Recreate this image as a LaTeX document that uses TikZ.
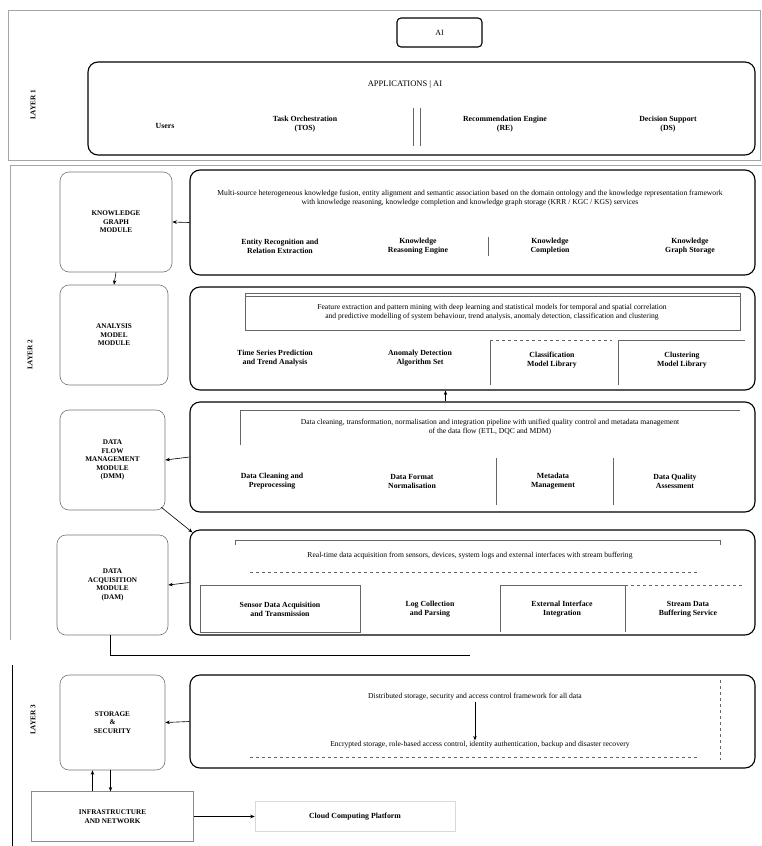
\documentclass[tikz,border=0pt]{standalone}
\usepackage{fontspec}
\setmainfont{Liberation Serif}
\usetikzlibrary{fit,calc,arrows.meta}
\begin{document}
\begin{tikzpicture}[x=1pt,y=-1pt,
  bigbox/.style={draw, line width=1.1pt, rounded corners=10pt, inner sep=0pt},
  sidebox/.style={draw=black!55, line width=0.6pt, rounded corners=9pt, inner sep=0pt},
  cellline/.style={draw=black!60, line width=0.6pt},
  dashline/.style={draw=black!60, line width=0.6pt, dashed},
  item/.style={font=\fontsize{7.8}{9}\selectfont\bfseries, align=center, inner sep=1pt},
  title/.style={font=\fontsize{7.6}{9.5}\selectfont, align=center, inner sep=1pt},
  side/.style={font=\fontsize{7.2}{8.5}\selectfont\bfseries, align=center, inner sep=1pt},
  layer/.style={font=\fontsize{7.2}{8}\selectfont\bfseries, rotate=90},
  arr/.style={-{Stealth[length=4.5pt,width=3.5pt]}, line width=0.6pt},
  frame/.style={draw=black!35, line width=0.8pt}]
\useasboundingbox (0,0) rectangle (762,846);

% ---------- section frames ----------
\draw[frame] (8,10) rectangle (760,160);
\draw[frame] (10,165) -- (762,165);
\draw[frame] (10,165) -- (10,640);
\draw[line width=0.6pt] (12,665) -- (12,846);

\node[layer] (lay1) at (33,105) {LAYER 1};
\node[layer] (lay2) at (30,355) {LAYER 2};
\node[layer] (lay3) at (33,720) {LAYER 3};

% ---------- top layer ----------
\node[draw, line width=1.1pt, rounded corners=4pt, minimum width=85pt, minimum height=29pt,
      font=\fontsize{8}{9}\selectfont] (ai) at (439.5,32.5) {AI};
\node[bigbox, fit={(88,62) (755,155)}] (r0) {};
\node[title, font=\fontsize{8.5}{10}\selectfont] (r0t) at (405,84) {APPLICATIONS \textbar{} AI};
\node[item] (r0a) at (165,126) {Users};
\node[item] (r0b) at (305,124) {Task Orchestration\\(TOS)};
\node[item] (r0c) at (505,124) {Recommendation Engine\\(RE)};
\node[item] (r0d) at (668,124) {Decision Support\\(DS)};
\draw[cellline] (413,108) -- (413,146);
\draw[cellline] (420,108) -- (420,146);

% ---------- row 1 ----------
\node[sidebox, fit={(60,172) (172,272)}] (l1) {};
\node[side] at (l1) {KNOWLEDGE\\GRAPH\\MODULE};
\node[bigbox, fit={(190,170) (755,275)}] (r1) {};
\node[title] (r1t) at (470,198) {Multi-source heterogeneous knowledge fusion, entity alignment and semantic association based on the domain ontology and the knowledge representation framework\\with knowledge reasoning, knowledge completion and knowledge graph storage (KRR / KGC / KGS) services};
\node[item] (r1a) at (280,246) {Entity Recognition and\\Relation Extraction};
\node[item] (r1b) at (418,246) {Knowledge\\Reasoning Engine};
\node[item] (r1c) at (550,246) {Knowledge\\Completion};
\node[item] (r1d) at (690,246) {Knowledge\\Graph Storage};
\draw[cellline] (488,237) -- (488,256);

% ---------- row 2 ----------
\node[sidebox, fit={(60,285) (168,385)}] (l2) {};
\node[side] at (l2) {ANALYSIS\\MODEL\\MODULE};
\node[bigbox, fit={(190,287) (755,390)}] (r2) {};
\draw[cellline] (245,330) rectangle (740,293);
\draw[cellline] (245,296) -- (740,296);
\node[title] (r2t) at (492,312) {Feature extraction and pattern mining with deep learning and statistical models for temporal and spatial correlation\\and predictive modelling of system behaviour, trend analysis, anomaly detection, classification and clustering};
\node[item] (r2a) at (275,358) {Time Series Prediction\\and Trend Analysis};
\node[item] (r2b) at (420,358) {Anomaly Detection\\Algorithm Set};
\draw[cellline] (490,385) -- (490,340);
\draw[dashline] (490,340) -- (612,340);
\node[item] (r2c) at (552,360) {Classification\\Model Library};
\draw[cellline] (618,385) -- (618,340) -- (745,340);
\node[item] (r2d) at (682,360) {Clustering\\Model Library};

% ---------- row 3 ----------
\node[sidebox, fit={(60,410) (165,510)}] (l3) {};
\node[side] at (l3) {DATA\\FLOW\\MANAGEMENT\\MODULE\\(DMM)};
\node[bigbox, fit={(190,402) (755,512)}] (r3) {};
\draw[cellline] (240,445) -- (240,410) -- (740,410);
\node[title] (r3t) at (490,427) {Data cleaning, transformation, normalisation and integration pipeline with unified quality control and metadata management\\of the data flow (ETL, DQC and MDM)};
\node[item] (r3a) at (272,481) {Data Cleaning and\\Preprocessing};
\node[item] (r3b) at (412,481) {Data Format\\Normalisation};
\draw[cellline] (496,458) -- (496,505);
\node[item] (r3c) at (553,481) {Metadata\\Management};
\draw[cellline] (613,458) -- (613,505);
\node[item] (r3d) at (675,481) {Data Quality\\Assessment};

% ---------- row 4 ----------
\node[sidebox, fit={(57,535) (168,635)}] (l4) {};
\node[side] at (l4) {DATA\\ACQUISITION\\MODULE\\(DAM)};
\node[bigbox, fit={(190,530) (755,635)}] (r4) {};
\draw[cellline] (235,545) -- (235,540) -- (720,540) -- (720,545);
\draw[dashline] (250,572) -- (700,572);
\node[title] (r4t) at (470,556) {Real-time data acquisition from sensors, devices, system logs and external interfaces with stream buffering};
\draw[cellline] (200,585) rectangle (360,632);
\node[item] (r4a) at (280,609) {Sensor Data Acquisition\\and Transmission};
\node[item] (r4b) at (430,609) {Log Collection\\and Parsing};
\draw[cellline] (500,632) -- (500,585) -- (625,585) -- (625,632);
\node[item] (r4c) at (562,609) {External Interface\\Integration};
\draw[dashline] (625,585) -- (745,585);
\node[item] (r4d) at (688,609) {Stream Data\\Buffering Service};

% ---------- row 5 ----------
\node[sidebox, fit={(60,675) (165,770)}] (l5) {};
\node[side] at (l5) {STORAGE\\\&\\SECURITY};
\node[bigbox, fit={(190,675) (755,768)}] (r5) {};
\node[title] (r5t) at (475,697) {Distributed storage, security and access control framework for all data};
\node[title] (r5s) at (480,745) {Encrypted storage, role-based access control, identity authentication, backup and disaster recovery};
\draw[dashline] (250,757) -- (700,757);
\draw[dashline] (720,680) -- (720,760);

% ---------- infrastructure ----------
\node[draw=black!45, line width=0.5pt, fit={(35,795) (190,838)}] (l6) {};
\node[side] at (l6) {INFRASTRUCTURE\\AND NETWORK};
\node[draw=black!15, line width=0.5pt, minimum width=200pt, minimum height=30pt,
      font=\fontsize{7.8}{9}\selectfont\bfseries] (cloud) at (355,816.5) {Cloud Computing Platform};

% ---------- connectors ----------
\draw[arr] (r1.west) -- (l1.east);
\draw[arr] (l1.south) -- (l2.north);
\draw[arr] ($(r3.north)+(-27,0)$) -- ($(r2.south)+(-27,0)$);
\draw[arr] (r3.west) -- (l3.east);
\draw[arr] ($(l3.south east)+(-4,-3)$) -- ($(r4.north west)+(3,3)$);
\draw[arr] (r4.west) -- (l4.east);
\coordinate (feed) at (470,655);
\draw[line width=0.6pt] ($(l4.south)+(-2,0)$) |- (feed);
\draw[arr] (r5.west) -- (l5.east);
\draw[arr] (r5t.south) -- (r5t.south |- r5s.north);
\draw[arr] ($(l5.south)+(-2,0)$) -- ($(l6.north)+(-2,0)$);
\draw[arr] ($(l6.north)+(-20,0)$) -- ($(l5.south)+(-20,0)$);
\draw[arr] (l6.east) -- (l6.east -| cloud.west);
\end{tikzpicture}
\end{document}
